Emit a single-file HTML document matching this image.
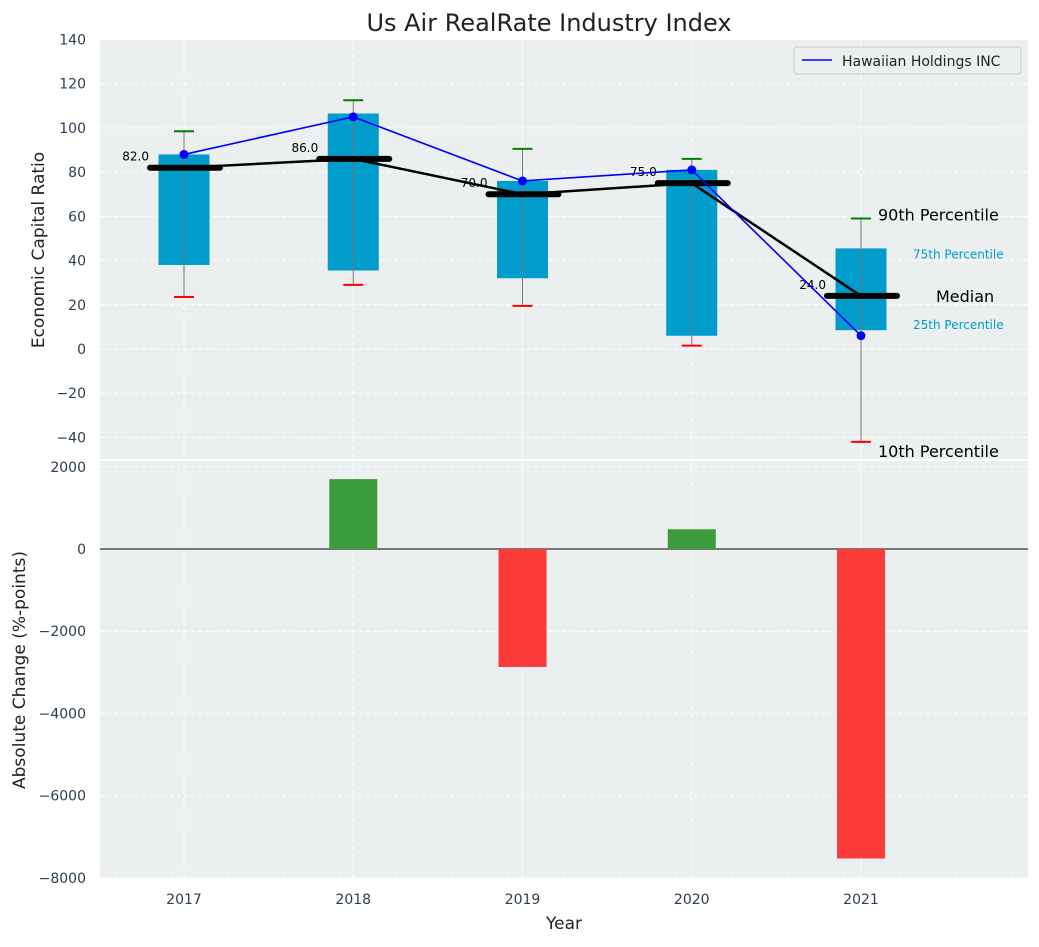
<!DOCTYPE html>
<html><head><meta charset="utf-8"><style>
body{margin:0;background:#fff;font-family:"Liberation Sans","DejaVu Sans",sans-serif}
svg text{font-family:"DejaVu Sans","Liberation Sans",sans-serif}
</style></head><body>
<svg id="c" width="1039" height="942" xmlns="http://www.w3.org/2000/svg"></svg>
<script>
const years=[2017,2018,2019,2020,2021];
const p25=[38,35.5,32,6,8.5];
const p75=[88,106.5,76,81,45.5];
const p10=[23.5,29,19.5,1.5,-42];
const p90=[98.5,112.5,90.5,86,59];
const medians=[82,86,70,75,24];
const company=[88,105,76,81,6];
const changes=[0,1700,-2870,480,-7530];
const topTicks=[-40,-20,0,20,40,60,80,100,120,140];
const botTicks=[-8000,-6000,-4000,-2000,0,2000];

const svg=document.getElementById('c');const NS='http://www.w3.org/2000/svg';
function el(t,a,txt,p){const e=document.createElementNS(NS,t);for(const k in a)e.setAttribute(k,a[k]);if(txt!=null)e.textContent=txt;(p||svg).appendChild(e);return e;}
const X0=100,X1=1028;
const x=v=>184+(v-2017)*169.25;
const yT=v=>349-v*(398/180);
const yB=v=>549-v*(411/10000);
let r=el('rect',{x:X0,y:40,width:X1-X0,height:419,fill:'#ebeff0'});
r=el('rect',{x:X0,y:461,width:X1-X0,height:417,fill:'#ebeff0'});
topTicks.forEach(t=>{const y=yT(t);el('line',{x1:X0,x2:X1,y1:y,y2:y,stroke:'#fff','stroke-dasharray':'4,3'});
 const tx=el('text',{x:86,y:y+5,'text-anchor':'end','font-size':14,fill:'#2c3e50'},t<0?'−'+(-t):t);});
botTicks.forEach(t=>{const y=yB(t);el('line',{x1:X0,x2:X1,y1:y,y2:y,stroke:'#fff','stroke-dasharray':'4,3'});
 const tx=el('text',{x:86,y:y+5,'text-anchor':'end','font-size':14,fill:'#2c3e50'},t<0?'−'+(-t):t);});
years.forEach(yr=>{const xx=x(yr);el('line',{x1:xx,x2:xx,y1:40,y2:459,stroke:'#fff','stroke-dasharray':'4,3'});el('line',{x1:xx,x2:xx,y1:461,y2:878,stroke:'#fff','stroke-dasharray':'4,3'});
 const tx=el('text',{x:xx,y:904,'text-anchor':'middle','font-size':14,fill:'#2c3e50'},yr);});
const hw=25.5;
years.forEach((yr,i)=>{const xx=x(yr);
 const b=el('rect',{x:xx-hw,y:yT(p75[i]),width:2*hw,height:yT(p25[i])-yT(p75[i]),fill:'#009ccc'});
 el('line',{x1:xx,x2:xx,y1:yT(p90[i]),y2:yT(p10[i]),stroke:'#777','stroke-width':1});
 el('line',{x1:xx-10,x2:xx+10,y1:yT(p90[i]),y2:yT(p90[i]),stroke:'green','stroke-width':2});
 el('line',{x1:xx-10,x2:xx+10,y1:yT(p10[i]),y2:yT(p10[i]),stroke:'red','stroke-width':2});
 el('line',{x1:xx-34,x2:xx+36,y1:yT(medians[i]),y2:yT(medians[i]),stroke:'#000','stroke-width':6,'stroke-linecap':'round'});
 el('text',{x:xx-35,y:yT(medians[i])-7,'text-anchor':'end','font-size':12,fill:'#000'},medians[i].toFixed(1));
});
let pl=el('polyline',{points:years.map((yr,i)=>x(yr)+','+yT(medians[i])).join(' '),fill:'none',stroke:'#000','stroke-width':2.5});
pl=el('polyline',{points:years.map((yr,i)=>x(yr)+','+yT(company[i])).join(' '),fill:'none',stroke:'blue','stroke-width':1.6});
years.forEach((yr,i)=>{const c=el('circle',{cx:x(yr),cy:yT(company[i]),r:4.5,fill:'blue'});});
const lx=x(2021);
el('text',{x:lx+17,y:yT(p90[4])+2,'font-size':16,fill:'#000'},'90th Percentile');
el('text',{x:lx+52,y:yT(p75[4])+10,'font-size':12,fill:'#009ccc'},'75th Percentile');
el('text',{x:lx+75,y:yT(medians[4])+6,'font-size':16,fill:'#000'},'Median');
el('text',{x:lx+52,y:yT(p25[4])-1,'font-size':12,fill:'#009ccc'},'25th Percentile');
el('text',{x:lx+17,y:yT(p10[4])+15,'font-size':16,fill:'#000'},'10th Percentile');
el('line',{x1:X0,x2:X1,y1:yB(0),y2:yB(0),stroke:'#000','stroke-width':1});
years.forEach((yr,i)=>{const v=changes[i];if(v===0)return;const xx=x(yr);
 const b=el('rect',{x:xx-24,y:Math.min(yB(0),yB(v)),width:48,height:Math.abs(yB(v)-yB(0)),fill:v>0?'#3a9c3a':'#fc3a3a'});});
const lg=el('g',{});
el('rect',{x:794,y:47,width:227,height:27,fill:'#ebeff0',stroke:'#ccc',rx:3},null,lg);
el('line',{x1:802,x2:832,y1:60,y2:60,stroke:'blue','stroke-width':1.6},null,lg);
el('text',{x:842,y:66,'font-size':14,fill:'#222'},'Hawaiian Holdings INC',lg);
let t=el('text',{x:549,y:31,'text-anchor':'middle','font-size':24,fill:'#222'},'Us Air RealRate Industry Index');
t=el('text',{x:44,y:250,'text-anchor':'middle','font-size':17,fill:'#222',transform:'rotate(-90 44 250)'},'Economic Capital Ratio');
t=el('text',{x:25,y:670,'text-anchor':'middle','font-size':17,fill:'#222',transform:'rotate(-90 25 670)'},'Absolute Change (%-points)');
t=el('text',{x:564,y:929,'text-anchor':'middle','font-size':17,fill:'#222'},'Year');
</script>
</body></html>
